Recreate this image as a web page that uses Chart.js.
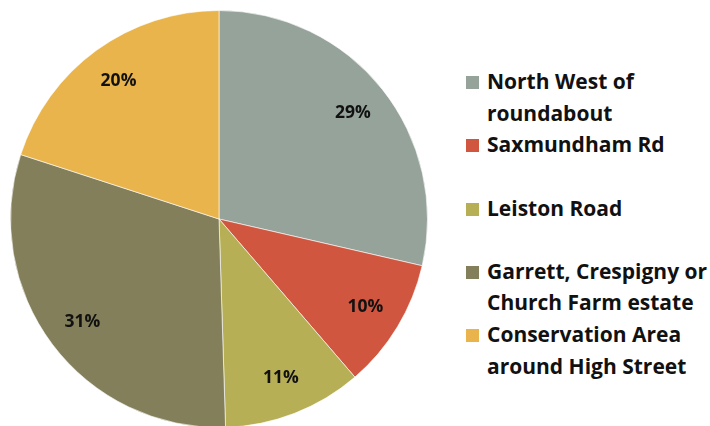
<html lang="en">
<head>
    <meta charset="UTF-8">
    <title>Pie chart</title>
    <script src="https://cdnjs.cloudflare.com/ajax/libs/Chart.js/4.4.1/chart.umd.min.js"></script>
    <style>
        body { margin: 0; width: 710px; height: 426px; overflow: hidden; background: #fff; position: relative; }
        #pieBox { position: absolute; left: 0; top: 0; width: 438px; height: 438px; }
        #legend { position: absolute; left: 466px; top: 66px; font-family: "Open Sans", sans-serif; font-weight: bold; font-size: 21px; color: #111; }
        .item { position: relative; height: 63.3px; line-height: 31.5px; padding-left: 21px; white-space: nowrap; }
        .box { position: absolute; left: 0; top: 10px; width: 13px; height: 13px; }
    </style>
</head>
<body>
    <div id="pieBox"><canvas id="pie"></canvas></div>
    <div id="legend"></div>

    <script>
        // data
        const categories = [
            ['North West of', 'roundabout'],
            ['Saxmundham Rd'],
            ['Leiston Road'],
            ['Garrett, Crespigny or', 'Church Farm estate'],
            ['Conservation Area', 'around High Street']
        ];
        const values = [28.6, 10.1, 10.8, 30.5, 20.0];
        const pctLabels = ['29%', '10%', '11%', '31%', '20%'];
        const colors = ['#95A39A', '#D0563F', '#B6AF56', '#837F5A', '#E8B44B'];

        // legend
        var legend = document.getElementById('legend');
        categories.forEach(function (lines, i) {
            var item = document.createElement('div');
            item.className = 'item';
            var box = document.createElement('span');
            box.className = 'box';
            box.style.background = colors[i];
            item.appendChild(box);
            lines.forEach(function (line) {
                var d = document.createElement('div');
                d.textContent = line;
                item.appendChild(d);
            });
            legend.appendChild(item);
        });

        // percentage labels on the slices
        const pctPlugin = {
            id: 'pctLabels',
            afterDatasetsDraw(chart) {
                const ctx = chart.ctx;
                const meta = chart.getDatasetMeta(0);
                ctx.save();
                ctx.font = 'bold 17.5px "Open Sans", sans-serif';
                ctx.fillStyle = '#111';
                ctx.textAlign = 'center';
                ctx.textBaseline = 'middle';
                meta.data.forEach(function (arc, i) {
                    const p = arc.getProps(['x', 'y', 'startAngle', 'endAngle', 'outerRadius'], true);
                    const mid = (p.startAngle + p.endAngle) / 2;
                    const r = p.outerRadius * 0.82;
                    ctx.fillText(pctLabels[i], p.x + Math.cos(mid) * r, p.y + Math.sin(mid) * r);
                });
                ctx.restore();
            }
        };

        new Chart('pie', {
            type: 'pie',
            data: {
                labels: categories,
                datasets: [{
                    data: values,
                    backgroundColor: colors,
                    borderColor: 'rgba(255,255,255,0.6)',
                    borderWidth: 1
                }]
            },
            options: {
                responsive: true,
                maintainAspectRatio: false,
                animation: false,
                layout: { padding: 10 },
                plugins: {
                    legend: { display: false },
                    tooltip: { enabled: false }
                }
            },
            plugins: [pctPlugin]
        });
    </script>
</body>
</html>
